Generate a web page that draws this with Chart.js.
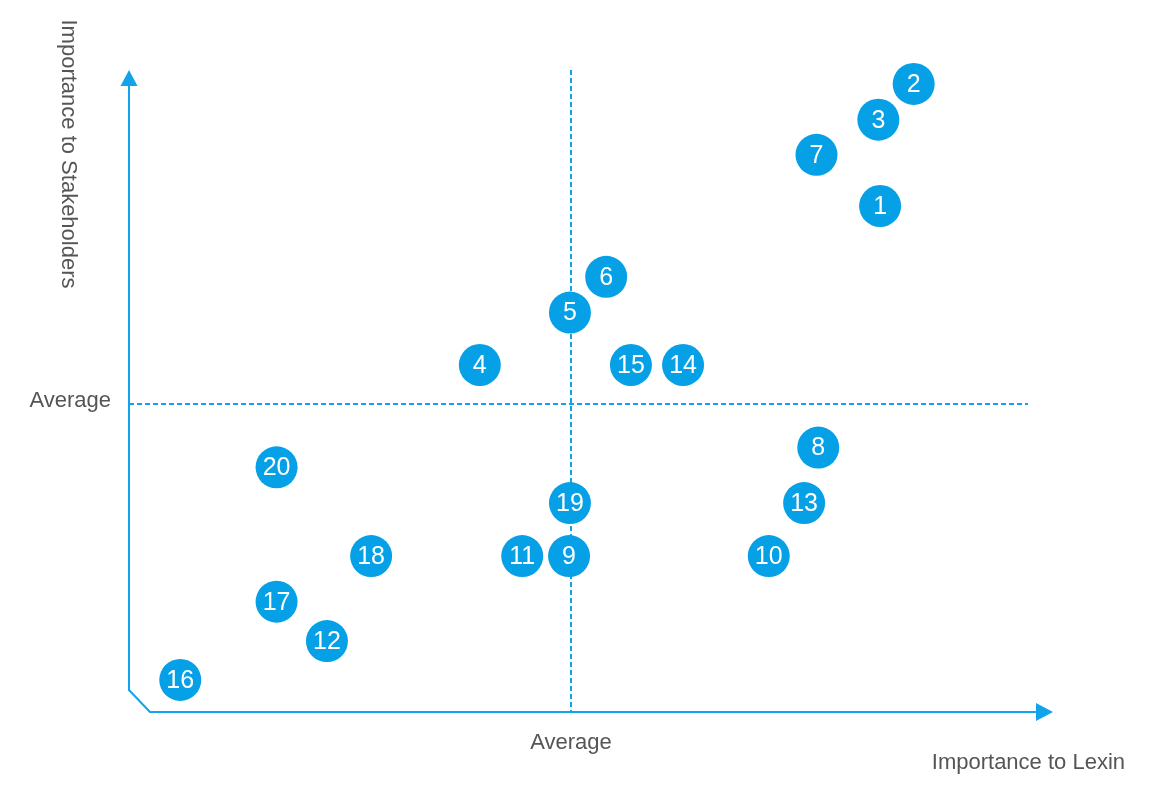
<!DOCTYPE html>
<html>
<head>
  <title>Materiality Matrix</title>
  <script src="https://cdn.jsdelivr.net/npm/chart.js@4.4.0/dist/chart.umd.min.js"></script>
  <style>
    body { margin: 0; background: #fff; }
  </style>
</head>
<body>
  <canvas id="matrix" width="1160" height="788"></canvas>

  <script>
    // issue numbers and their scores (same 0-10.4 scale on both axes, average = 5)
    const issues = ['1', '2', '3', '4', '5', '6', '7', '8', '9', '10',
                    '11', '12', '13', '14', '15', '16', '17', '18', '19', '20'];
    const lexinScores = [8.50, 8.88, 8.48, 3.97, 4.99, 5.40, 7.78, 7.80, 4.98, 7.24,
                         4.45, 2.24, 7.64, 6.27, 5.68, 0.58, 1.67, 2.74, 4.99, 1.67];
    const stakeholderScores = [8.21, 10.19, 9.61, 5.63, 6.48, 7.06, 9.04, 4.29, 2.53, 2.53,
                               2.53, 1.15, 3.39, 5.63, 5.63, 0.52, 1.79, 2.53, 3.39, 3.97];
    const averageLexin = 5;
    const averageStakeholders = 5;
    const axisTitles = { x: 'Importance to Lexin', y: 'Importance to Stakeholders' };
    const averageLabel = 'Average';

    const blue = '#05a0e6';
    const lineBlue = '#12a4ea';
    const grey = '#555555';

    const points = issues.map((id, i) => ({ x: lexinScores[i], y: stakeholderScores[i] }));

    // axes with arrows, average lines and titles
    const framePlugin = {
      id: 'frame',
      beforeDatasetsDraw(chart) {
        const { ctx, chartArea: a, scales: { x, y } } = chart;
        const ax = Math.round(x.getPixelForValue(averageLexin));
        const ay = Math.round(y.getPixelForValue(averageStakeholders));
        ctx.save();
        ctx.strokeStyle = lineBlue;
        ctx.lineWidth = 2;
        ctx.setLineDash([5, 3]);
        ctx.beginPath();
        ctx.moveTo(ax, a.top - 1);
        ctx.lineTo(ax, a.bottom);
        ctx.moveTo(a.left, ay);
        ctx.lineTo(a.right - 20, ay);
        ctx.stroke();

        ctx.setLineDash([]);
        ctx.lineWidth = 2;
        ctx.beginPath();
        ctx.moveTo(a.left, a.top + 10);
        ctx.lineTo(a.left, a.bottom - 22);
        ctx.lineTo(a.left + 21, a.bottom);
        ctx.lineTo(a.right - 8, a.bottom);
        ctx.stroke();

        ctx.fillStyle = lineBlue;
        ctx.beginPath();
        ctx.moveTo(a.left, a.top - 1);
        ctx.lineTo(a.left - 8.5, a.top + 15);
        ctx.lineTo(a.left + 8.5, a.top + 15);
        ctx.closePath();
        ctx.fill();
        ctx.beginPath();
        ctx.moveTo(a.right + 5, a.bottom);
        ctx.lineTo(a.right - 12, a.bottom - 9);
        ctx.lineTo(a.right - 12, a.bottom + 9);
        ctx.closePath();
        ctx.fill();

        ctx.fillStyle = grey;
        ctx.font = '22px "Liberation Sans", Arial, sans-serif';
        ctx.textBaseline = 'middle';
        ctx.textAlign = 'center';
        ctx.fillText(averageLabel, ax, a.bottom + 31);
        ctx.textAlign = 'right';
        ctx.fillText(averageLabel, a.left - 18, ay - 3);
        ctx.fillText(axisTitles.x, a.right + 77, a.bottom + 51);

        ctx.translate(68, 154);
        ctx.rotate(Math.PI / 2);
        ctx.textAlign = 'center';
        ctx.fillText(axisTitles.y, 0, 0);
        ctx.restore();
      },
      afterDatasetsDraw(chart) {
        const { ctx } = chart;
        const meta = chart.getDatasetMeta(0);
        ctx.save();
        ctx.fillStyle = '#ffffff';
        ctx.font = '25px "Liberation Sans", Arial, sans-serif';
        ctx.textAlign = 'center';
        ctx.textBaseline = 'middle';
        meta.data.forEach((pt, i) => {
          ctx.fillText(issues[i], pt.x, pt.y + 1);
        });
        ctx.restore();
      }
    };

    new Chart(document.getElementById('matrix').getContext('2d'), {
      type: 'scatter',
      data: {
        labels: issues,
        datasets: [{
          label: 'Issues',
          data: points,
          backgroundColor: blue,
          borderWidth: 0,
          pointRadius: 21,
          pointHoverRadius: 21,
          clip: false
        }]
      },
      options: {
        responsive: false,
        animation: false,
        layout: { padding: { left: 129, right: 112, top: 71, bottom: 76 } },
        plugins: {
          legend: { display: false },
          tooltip: { enabled: false }
        },
        scales: {
          x: { display: false, min: 0, max: 10.4 },
          y: { display: false, min: 0, max: 10.4 }
        }
      },
      plugins: [framePlugin]
    });
  </script>
</body>
</html>
